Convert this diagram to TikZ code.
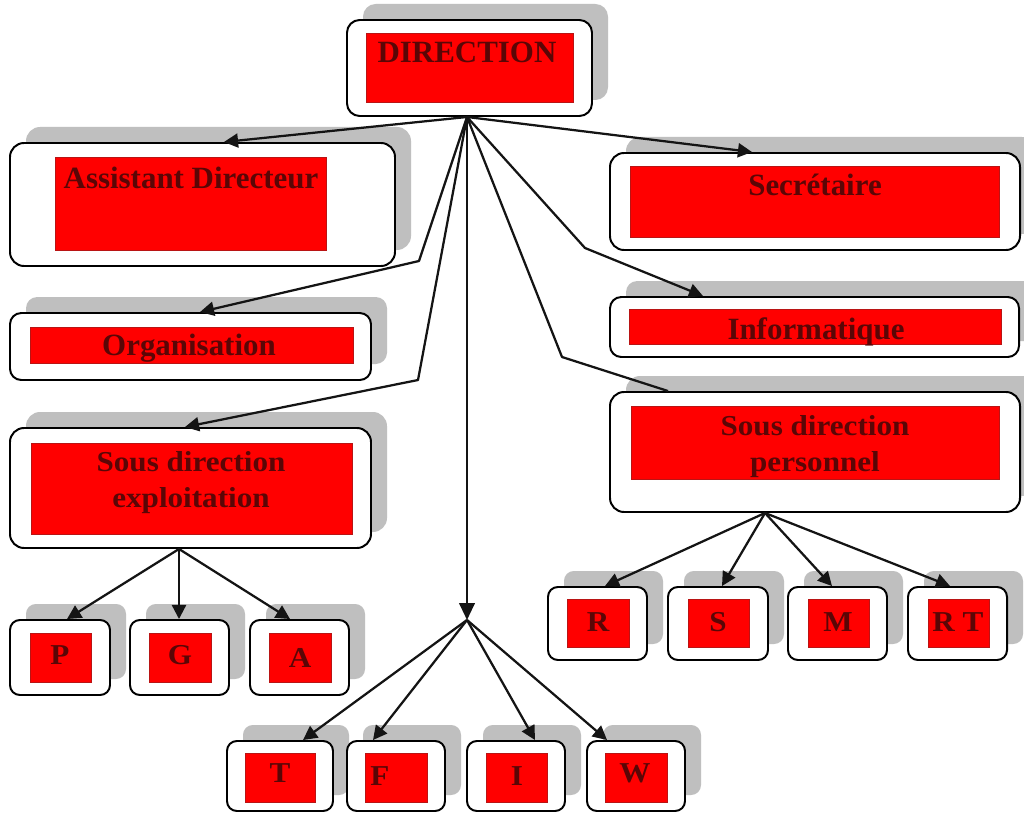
\documentclass[tikz,border=0pt]{standalone}
\usepackage{fontspec}
\setmainfont{Liberation Serif}
\newfontfamily\sqfont[FakeStretch=1.08]{Liberation Serif}
\usetikzlibrary{fit,arrows.meta}
\definecolor{shadowc}{RGB}{191,191,191}
\definecolor{redfill}{RGB}{255,0,0}
\definecolor{redline}{RGB}{185,20,20}
\definecolor{txtc}{RGB}{90,6,6}
\definecolor{linec}{RGB}{20,20,20}
\tikzset{
  outerbox/.style={draw=black, line width=1.4pt, fill=white, inner sep=0pt},
  redbox/.style={fill=redfill, draw=redline, line width=0.6pt, inner sep=0pt},
  bigtxt/.style={font=\fontsize{22}{24}\selectfont\bfseries, text=txtc, inner sep=0pt, anchor=base},
  smtxt/.style={font=\sqfont\fontsize{20.5}{25.5}\selectfont\bfseries, text=txtc, inner sep=0pt, anchor=base, align=center},
  conn/.style={draw=linec, line width=1.6pt, line join=round},
  arr/.style={conn, -{Triangle[length=10pt,width=10pt]}},
  bigarr/.style={conn, -{Triangle[length=12pt,width=11pt]}},
}
\newcommand\orgbox[6]{%
  \fill[shadowc, rounded corners=#6] (#2+16,#3-16) rectangle (#4+16,#5-16);
  \node[outerbox, rounded corners=#6, fit={(#2,#3)(#4,#5)}] (#1) {};
}
\newcommand\redrect[5]{%
  \node[redbox, fit={(#2,#3)(#4,#5)}] (#1) {};
}
\begin{document}
\begin{tikzpicture}[x=0.025cm,y=-0.025cm]
\useasboundingbox (0,0) rectangle (1024,814);
\fill[white] (0,0) rectangle (1024,814);

% ---- large boxes ----
\orgbox{dir}{347}{20}{592}{116}{9pt}
\redrect{rDir}{366}{33}{573}{102}
\node[bigtxt] (tDir) at (467,63) {DIRECTION};

\orgbox{asst}{10}{143}{395}{266}{10pt}
\redrect{rAsst}{55}{157}{326}{250}
\node[bigtxt] (tAsst) at (191,188) {Assistant Directeur};

\orgbox{secr}{610}{153}{1020}{250}{10pt}
\redrect{rSecr}{630}{166}{999}{237}
\node[bigtxt] (tSecr) at (815,195) {Secrétaire};

\orgbox{org}{10}{313}{371}{380}{8pt}
\redrect{rOrg}{30}{327}{353}{363}
\node[bigtxt] (tOrg) at (189,355) {Organisation};

\orgbox{info}{610}{297}{1019}{357}{8pt}
\redrect{rInfo}{629}{309}{1001}{344}
\node[bigtxt] (tInfo) at (816,339) {Informatique};

\orgbox{expl}{10}{428}{371}{548}{10pt}
\redrect{rExpl}{31}{443}{352}{534}
\node[smtxt] (tExpl) at (191,507) {Sous direction\\exploitation};

\orgbox{pers}{610}{392}{1020}{512}{10pt}
\redrect{rPers}{631}{406}{999}{479}
\node[smtxt] (tPers) at (815,471) {Sous direction\\personnel};

% ---- leaves under exploitation ----
\orgbox{nP}{10}{620}{110}{695}{7pt}
\redrect{rP}{30}{633}{91}{682}
\node[smtxt] (tP) at (60,664) {P};
\orgbox{nG}{130}{620}{229}{695}{7pt}
\redrect{rG}{149}{633}{211}{682}
\node[smtxt] (tG) at (180,664) {G};
\orgbox{nA}{250}{620}{349}{695}{7pt}
\redrect{rA}{269}{633}{331}{682}
\node[smtxt] (tA) at (300,667) {A};

% ---- leaves under personnel ----
\orgbox{nR}{548}{587}{647}{660}{7pt}
\redrect{rR}{567}{599}{629}{647}
\node[smtxt] (tR) at (598,631) {R};
\orgbox{nS}{668}{587}{768}{660}{7pt}
\redrect{rS}{688}{599}{749}{647}
\node[smtxt] (tS) at (718,631) {S};
\orgbox{nM}{788}{587}{887}{660}{7pt}
\redrect{rM}{808}{599}{869}{647}
\node[smtxt] (tM) at (838,631) {M};
\orgbox{nRT}{908}{587}{1007}{660}{7pt}
\redrect{rRT}{928}{599}{989}{647}
\node[smtxt] (tRT) at (958,631) {R T};

% ---- bottom leaves ----
\orgbox{nT}{227}{741}{333}{811}{7pt}
\redrect{rT}{245}{753}{315}{802}
\node[smtxt] (tT) at (280,782) {T};
\orgbox{nF}{347}{741}{445}{811}{7pt}
\redrect{rF}{365}{753}{427}{802}
\node[smtxt] (tF) at (380,785) {F};
\orgbox{nI}{467}{741}{565}{811}{7pt}
\redrect{rI}{486}{753}{547}{802}
\node[smtxt] (tI) at (517,785) {I};
\orgbox{nW}{587}{741}{685}{811}{7pt}
\redrect{rW}{605}{753}{667}{802}
\node[smtxt] (tW) at (635,782) {W};

% ---- connectors ----
\coordinate (hub) at (467,0 |- dir.south);
\coordinate (jn) at (467,620);
\coordinate (ex) at (179,0 |- expl.south);
\coordinate (px) at (765,0 |- pers.south);

\draw[arr] (hub) -- (224,0 |- asst.north);
\draw[arr] (hub) -- (419,261) -- (200,0 |- org.north);
\draw[arr] (hub) -- (418,380) -- (185,0 |- expl.north);
\draw[bigarr] (hub) -- (jn);
\draw[arr] (hub) -- (752,0 |- secr.north);
\draw[arr] (hub) -- (585,248) -- (703,0 |- info.north);
\draw[conn] (hub) -- (562,357) -- (668,0 |- pers.north);

\draw[arr] (ex) -- (67,0 |- nP.north);
\draw[arr] (ex) -- (179,0 |- nG.north);
\draw[arr] (ex) -- (290,0 |- nA.north);

\draw[arr] (px) -- (605,0 |- nR.north);
\draw[arr] (px) -- (722,0 |- nS.north);
\draw[arr] (px) -- (832,0 |- nM.north);
\draw[arr] (px) -- (950,0 |- nRT.north);

\draw[arr] (jn) -- (303,0 |- nT.north);
\draw[arr] (jn) -- (373,0 |- nF.north);
\draw[arr] (jn) -- (535,0 |- nI.north);
\draw[arr] (jn) -- (607,0 |- nW.north);
\end{tikzpicture}
\end{document}
